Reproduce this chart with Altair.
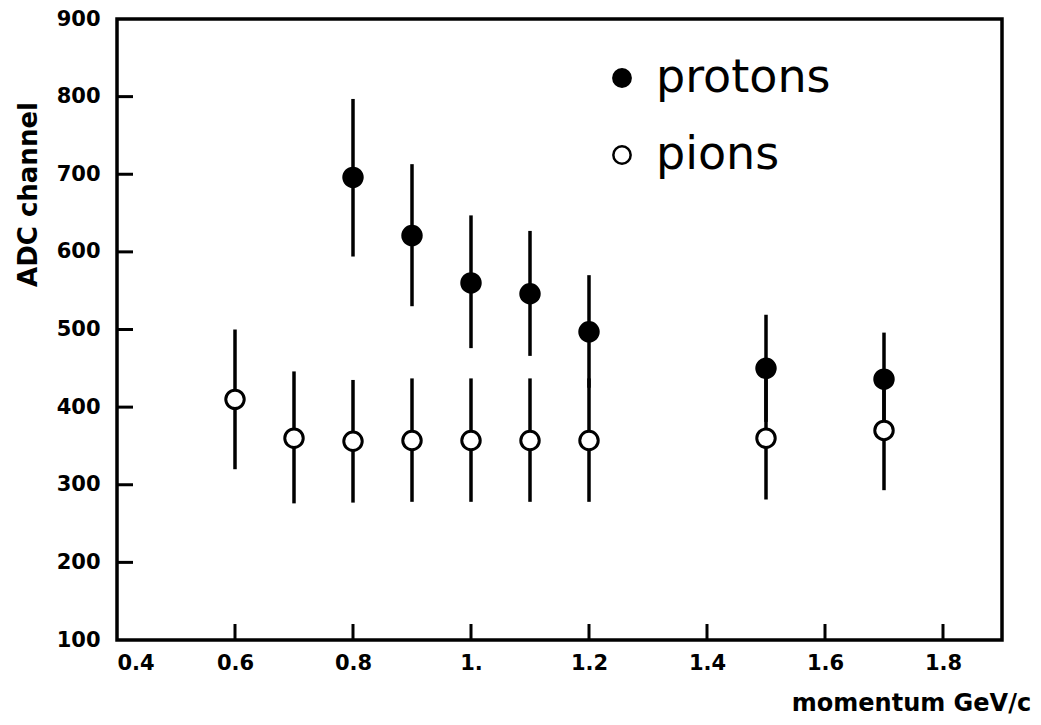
import altair as alt
import pandas as pd

# ---- data ----
pion_momentum = [0.6, 0.7, 0.8, 0.9, 1.0, 1.1, 1.2, 1.5, 1.7]
pion_adc = [410, 360, 356, 357, 357, 357, 357, 360, 370]
pion_low = [320, 276, 277, 278, 278, 278, 278, 281, 293]
pion_high = [500, 446, 435, 437, 437, 437, 437, 440, 447]

proton_momentum = [0.8, 0.9, 1.0, 1.1, 1.2, 1.5, 1.7]
proton_adc = [696, 621, 560, 546, 497, 450, 436]
proton_low = [594, 530, 476, 466, 425, 381, 376]
proton_high = [797, 713, 647, 627, 570, 519, 496]

x_ticks = [0.4, 0.6, 0.8, 1.0, 1.2, 1.4, 1.6, 1.8]
y_ticks = [100, 200, 300, 400, 500, 600, 700, 800, 900]
x_inner_ticks = [0.6, 0.8, 1.0, 1.2, 1.4, 1.6, 1.8]
y_inner_ticks = [200, 300, 400, 500, 600, 700, 800]

W, H = 885, 621

rows = []
for m, v, lo, hi in zip(proton_momentum, proton_adc, proton_low, proton_high):
    rows.append({"x": m, "v": v, "lo": lo, "hi": hi, "series": "protons"})
for m, v, lo, hi in zip(pion_momentum, pion_adc, pion_low, pion_high):
    rows.append({"x": m, "v": v, "lo": lo, "hi": hi, "series": "pions"})
df = pd.DataFrame(rows)

xscale = alt.Scale(domain=[0.4, 1.9], nice=False, zero=False)
yscale = alt.Scale(domain=[100, 900], nice=False, zero=False)

x_axis = alt.Axis(
    values=x_ticks,
    labelExpr="datum.value == 1 ? '1.' : format(datum.value, '.1f')",
    title="momentum GeV/c",
    titleX=794, titleY=70, titleAlign="center", titleBaseline="alphabetic",
    titleFont="DejaVu Sans", titleFontSize=24, titleFontWeight="bold",
    labelPadding=12,
)
y_axis = alt.Axis(
    values=y_ticks, format="d",
    title="ADC channel",
    titleX=-81, titleY=175, titleAngle=270, titleAlign="center",
    titleBaseline="alphabetic",
    titleFont="DejaVu Sans", titleFontSize=26, titleFontWeight="bold",
    labelPadding=17,
)

errbars = alt.Chart(df).mark_rule(color="black", strokeWidth=3.5).encode(
    x=alt.X("x:Q", scale=xscale, axis=x_axis),
    y=alt.Y("lo:Q", scale=yscale, axis=y_axis),
    y2=alt.Y2("hi:Q"),
)

points = alt.Chart(df).mark_point(
    shape="circle", filled=False, stroke="black", strokeWidth=3, opacity=1,
    size=340,
).encode(
    x=alt.X("x:Q", scale=xscale, axis=x_axis),
    y=alt.Y("v:Q", scale=yscale, axis=y_axis),
    fill=alt.Fill(
        "series:N",
        scale=alt.Scale(domain=["protons", "pions"], range=["black", "white"]),
        legend=alt.Legend(
            title=None, orient="none", legendX=482, legendY=36,
            labelFont="DejaVu Sans", labelFontSize=46, labelColor="black",
            labelLimit=400,
            symbolType="circle", symbolSize=300, symbolStrokeColor="black",
            symbolStrokeWidth=2.5, rowPadding=31,
            labelOffset=11, padding=0,
        ),
    ),
)

ydf = pd.DataFrame({"v": y_inner_ticks})
xdf = pd.DataFrame({"v": x_inner_ticks})

ytick_marks = alt.Chart(ydf).mark_rule(color="black", strokeWidth=3).encode(
    y=alt.Y("v:Q", scale=yscale, axis=y_axis),
    x=alt.value(0),
    x2=alt.value(16),
)
xtick_marks = alt.Chart(xdf).mark_rule(color="black", strokeWidth=3).encode(
    x=alt.X("v:Q", scale=xscale, axis=x_axis),
    y=alt.value(H),
    y2=alt.value(H - 16),
)

chart = alt.layer(errbars, ytick_marks, xtick_marks, points).properties(
    width=W, height=H,
    autosize=alt.AutoSizeParams(type="none"),
    padding={"left": 117, "top": 19, "right": 39, "bottom": 85},
    background="white",
).configure_view(
    stroke="black", strokeWidth=3.5
).configure_axis(
    grid=False, domain=False, ticks=False,
    labelFont="DejaVu Sans", labelFontSize=21, labelFontWeight="bold",
    labelColor="black", titleColor="black",
)

chart.save("out.html", embed_options={"renderer": "svg", "actions": False})
